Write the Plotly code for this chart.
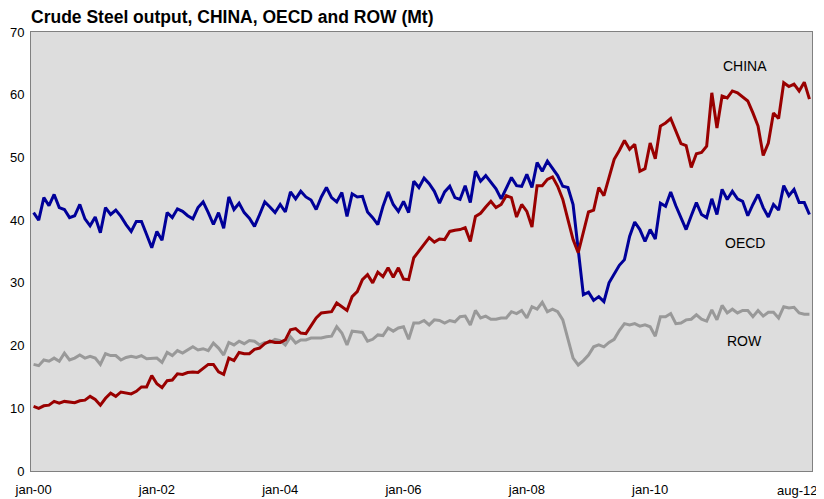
import plotly.graph_objects as go

mnames = ["jan", "feb", "mar", "apr", "may", "jun", "jul", "aug", "sep", "oct", "nov", "dec"]
months = [f"{m}-{y:02d}" for y in range(0, 13) for m in mnames][:152]

tick_labels = ["jan-00", "jan-02", "jan-04", "jan-06", "jan-08", "jan-10"]
last_label = "aug-12"
y_ticks = [0, 10, 20, 30, 40, 50, 60, 70]

china = [10.3, 10.0, 10.4, 10.5, 11.1, 10.8, 11.1, 11.0, 10.9, 11.2, 11.3, 11.9, 11.4, 10.5, 11.6, 12.4, 11.9, 12.6, 12.4, 12.3,
         12.7, 13.4, 13.4, 15.2, 13.9, 13.3, 14.4, 14.5, 15.5, 15.4, 15.7, 15.8, 15.7, 16.4, 17.0, 17.0, 15.8, 15.4,
         18.0, 17.6, 18.9, 18.7, 18.7, 19.4, 19.6, 20.3, 20.7, 20.5, 20.5, 20.9, 22.5, 22.7, 22.0, 21.9, 23.1, 24.4, 25.2, 25.3,
         25.4, 26.8, 26.2, 25.6, 27.8, 28.6, 30.5, 31.3, 30.0, 31.7, 31.0, 32.4, 30.9, 32.4, 30.6, 30.5, 34.0, 35.1,
         36.1, 37.2, 36.5, 37.0, 36.9, 38.2, 38.4, 38.5, 38.8, 36.6, 40.6, 41.1, 42.1, 43.0, 42.0, 42.5, 43.9, 43.6, 40.5, 42.5,
         41.4, 38.9, 45.5, 45.5, 46.5, 46.9, 45.4, 43.3, 40.1, 36.9, 34.8, 38.2, 41.3, 41.6, 45.2, 43.9, 46.8, 49.7,
         51.1, 52.7, 51.3, 52.1, 47.8, 48.2, 52.3, 49.8, 55.0, 55.5, 56.2, 54.2, 52.2, 51.9, 48.4, 50.6, 50.8, 51.8, 60.3, 54.7,
         59.8, 59.5, 60.6, 60.3, 59.7, 59.0, 57.1, 55.0, 50.3, 52.3, 57.1, 56.2, 61.9, 61.3, 61.7, 60.6, 62.0, 59.3]

oecd = [41.2, 40.0, 43.6, 42.3, 44.1, 42.0, 41.7, 40.4, 40.7, 42.5, 40.2, 39.1, 40.5, 38.0, 42.0, 40.9, 41.6, 40.6, 39.3, 38.2,
        39.8, 39.8, 37.7, 35.6, 38.2, 36.8, 41.2, 40.4, 41.8, 41.4, 40.7, 40.2, 42.0, 42.9, 41.2, 39.3, 41.2, 38.7,
        43.7, 41.7, 42.7, 41.2, 40.3, 39.0, 40.9, 42.9, 42.1, 41.2, 42.5, 41.3, 44.5, 43.4, 44.6, 43.7, 43.2, 41.7, 43.7, 45.2,
        43.6, 42.9, 44.4, 40.6, 44.2, 43.7, 43.8, 41.3, 40.4, 39.3, 42.2, 44.5, 42.5, 41.4, 43.0, 41.2, 46.2, 45.2,
        46.7, 45.8, 44.6, 42.7, 44.5, 45.4, 43.6, 43.3, 45.5, 42.8, 47.8, 46.2, 47.1, 46.1, 45.0, 43.4, 45.0, 46.8, 45.5, 45.4,
        47.3, 45.2, 49.2, 47.8, 49.4, 48.2, 47.1, 45.4, 45.2, 42.5, 34.8, 28.1, 28.5, 27.2, 27.8, 27.0, 30.0, 31.3,
        32.8, 33.7, 37.4, 39.7, 38.5, 36.6, 38.5, 37.0, 42.7, 42.2, 44.5, 42.3, 40.4, 38.5, 40.7, 42.8, 40.9, 40.4, 43.4, 40.9,
        44.9, 43.3, 44.6, 43.4, 43.0, 40.7, 42.5, 44.1, 42.0, 40.5, 42.5, 41.6, 45.5, 43.9, 44.9, 42.8, 42.8, 40.9]

row = [17.0, 16.8, 17.7, 17.5, 18.0, 17.5, 18.8, 17.7, 18.0, 18.5, 18.0, 18.3, 18.0, 17.0, 18.7, 18.4, 18.4, 17.7, 18.1, 18.3,
       18.1, 18.4, 17.9, 17.9, 18.0, 17.3, 18.9, 18.4, 19.2, 18.8, 19.3, 19.8, 19.3, 19.5, 19.2, 20.4, 19.6, 18.5,
       20.5, 20.1, 20.7, 20.3, 20.8, 20.7, 20.1, 20.5, 20.5, 21.0, 20.8, 20.1, 21.4, 20.4, 20.9, 20.9, 21.2, 21.2, 21.2, 21.4,
       21.5, 23.0, 22.0, 20.1, 22.3, 22.2, 22.1, 20.7, 21.0, 21.7, 21.6, 22.8, 22.3, 22.8, 23.0, 21.0, 23.6, 23.6,
       24.0, 23.3, 24.1, 24.0, 23.6, 24.0, 23.8, 24.6, 24.7, 23.3, 25.6, 24.4, 24.7, 24.2, 24.2, 24.4, 24.4, 25.4, 25.1, 25.6,
       24.4, 26.2, 25.8, 26.9, 25.4, 25.8, 25.4, 24.1, 20.9, 18.0, 16.9, 17.6, 18.5, 19.8, 20.1, 19.8, 20.5, 21.0,
       22.4, 23.5, 23.3, 23.5, 23.1, 23.3, 23.0, 21.5, 24.6, 24.6, 25.1, 23.5, 23.6, 24.1, 24.2, 24.9, 24.2, 23.9, 25.7, 24.1,
       26.4, 25.2, 25.8, 25.2, 25.6, 25.6, 24.6, 25.6, 24.7, 25.3, 25.3, 24.4, 26.2, 26.0, 26.1, 25.2, 25.0, 25.0]

series = [("ROW", row, "#999999"), ("OECD", oecd, "#000099"), ("CHINA", china, "#990000")]

fig = go.Figure()
for name, vals, col in series:
    fig.add_trace(go.Scatter(x=months, y=vals, mode="lines", name=name,
                             line=dict(color=col, width=3), showlegend=False))

# The page body adds an 8px offset, so the figure is 8px smaller on each axis.
W, H = 816, 491
font = "Arial, Liberation Sans, sans-serif"
fig.update_layout(
    width=W, height=H,
    margin=dict(l=23, r=12, t=24, b=28, autoexpand=False),
    paper_bgcolor="white",
    plot_bgcolor="#DDDDDD",
    font=dict(family=font, size=13, color="black"),
    title=dict(text="<b>Crude Steel output, CHINA, OECD and ROW (Mt)</b>",
               x=0, xref="paper", xanchor="left", y=1 - 3 / H, yref="container", yanchor="top",
               pad=dict(t=0, b=0, l=0, r=0),
               font=dict(family=font, size=17.5, color="black")),
)
fig.update_xaxes(type="category", range=[-0.5, len(months) - 0.5], automargin=False,
                 tickmode="array", tickvals=tick_labels, ticktext=tick_labels,
                 showgrid=False, zeroline=False, showline=True, mirror=True,
                 linecolor="#808080", linewidth=1, ticks="", ticklabelstandoff=6,
                 tickfont=dict(size=13))
fig.update_yaxes(range=[0, 70], tickmode="array", tickvals=y_ticks, automargin=False,
                 showgrid=False, zeroline=False, showline=True, mirror=True,
                 linecolor="#808080", linewidth=1, ticks="", ticklabelstandoff=3,
                 tickfont=dict(size=13))

fig.add_annotation(x=len(months) - 1, y=0, xref="x", yref="paper", text=last_label,
                   showarrow=False, xanchor="right", yanchor="middle", xshift=10, yshift=-19,
                   font=dict(size=13))
for name, xv, yv in [("CHINA", 138.4, 64.5), ("OECD", 138.4, 36.4), ("ROW", 138.4, 20.8)]:
    fig.add_annotation(x=xv, y=yv, xref="x", yref="y", text=name, showarrow=False,
                       font=dict(size=14, color="black"))

fig.write_html("out.html")
